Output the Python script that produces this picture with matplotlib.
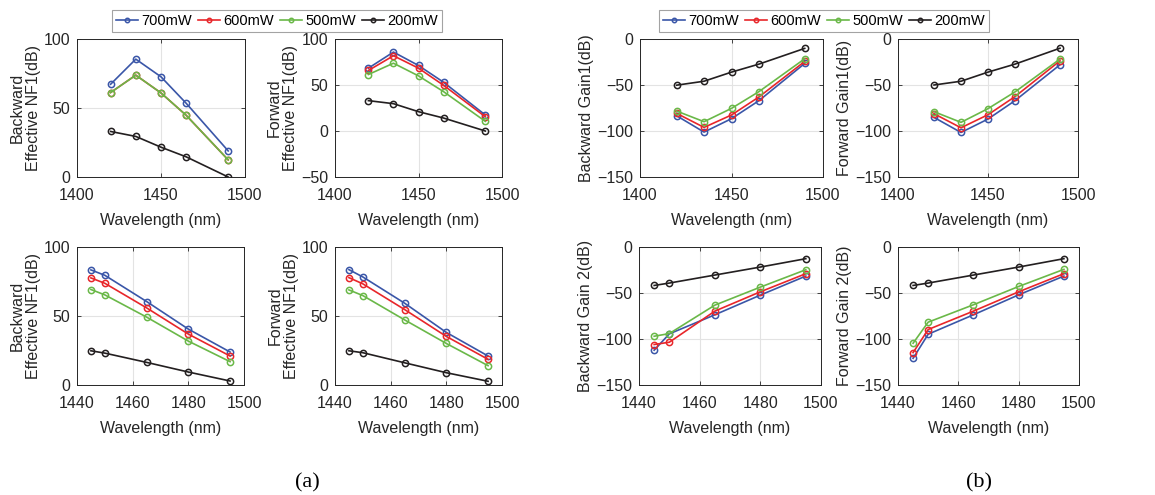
import numpy as np
import matplotlib
matplotlib.use('Agg')
import matplotlib.pyplot as plt

plt.rcParams['font.family'] = ['Liberation Sans', 'DejaVu Sans']
plt.rcParams['font.size'] = 11.5

# wavelengths (nm)
wl_top = [1420, 1435, 1450, 1465, 1490]
wl_bot = [1445, 1450, 1465, 1480, 1495]

powers = ['700mW', '600mW', '500mW', '200mW']
colors = ['#3a56a8', '#e8262a', '#6ab848', '#231f20']

# (a) top: Backward effective NF1
bnf1_top = [
    [67.2, 85.4, 72.6, 53.4, 18.9],
    [61.2, 73.8, 60.9, 44.7, 12.4],
    [61.2, 73.8, 60.9, 44.7, 12.4],
    [33.0, 29.4, 21.6, 14.6, 0.0],
]
# (a) top: Forward effective NF1
fnf1_top = [
    [68.3, 85.8, 71.2, 53.0, 17.4],
    [65.8, 81.8, 68.3, 49.7, 15.5],
    [61.4, 73.7, 59.9, 42.8, 10.5],
    [33.0, 29.7, 21.0, 14.1, 0.0],
]
# (b) top: Backward Gain1
bg1_top = [
    [-83.4, -101.2, -86.6, -67.0, -26.6],
    [-80.8, -96.1, -82.6, -63.0, -24.4],
    [-78.3, -89.9, -75.4, -57.2, -21.5],
    [-50.2, -45.9, -36.0, -27.3, -10.2],
]
# (b) top: Forward Gain1
fg1_top = [
    [-85.2, -101.6, -87.0, -67.0, -28.0],
    [-81.2, -96.5, -82.3, -62.6, -23.7],
    [-79.0, -90.6, -75.7, -57.5, -21.8],
    [-50.0, -45.9, -36.0, -27.3, -10.0],
]
# (a) bottom: Backward effective NF1
bnf1_bot = [
    [83.4, 79.5, 60.5, 40.5, 23.9],
    [77.6, 73.7, 55.9, 36.9, 21.0],
    [69.2, 65.3, 49.2, 31.8, 16.9],
    [24.8, 23.1, 16.4, 9.4, 2.9],
]
# (a) bottom: Forward effective NF1
fnf1_bot = [
    [83.6, 78.3, 59.3, 38.1, 21.0],
    [77.8, 73.3, 54.7, 35.2, 18.6],
    [68.9, 64.8, 47.2, 30.1, 14.0],
    [24.8, 23.4, 16.1, 8.9, 2.7],
]
# (b) bottom: Backward Gain 2
bg2_bot = [
    [-112.2, -94.4, -73.7, -52.3, -31.6],
    [-106.0, -103.5, -69.7, -48.7, -29.0],
    [-97.0, -94.1, -63.2, -43.6, -24.7],
    [-41.8, -39.2, -30.5, -21.8, -12.7],
]
# (b) bottom: Forward Gain 2
fg2_bot = [
    [-121.0, -94.8, -73.7, -52.0, -31.6],
    [-114.8, -89.7, -69.7, -48.7, -29.0],
    [-104.6, -81.7, -62.8, -42.9, -24.3],
    [-41.8, -39.2, -30.5, -21.8, -12.7],
]

W, H = 1155, 495
fig = plt.figure(figsize=(W / 100, H / 100), dpi=100)


def make_ax(x0, x1, y0, y1):
    return fig.add_axes([x0 / W, 1 - y1 / H, (x1 - x0) / W, (y1 - y0) / H])


def draw(ax, wl, data, ylabel, xlim, xticks, ylim, yticks):
    lines = []
    for vals, c, p in zip(data, colors, powers):
        ln, = ax.plot(wl, vals, '-o', color=c, lw=1.2, ms=4.5, mfc='none',
                      mew=1.1, label=p)
        lines.append(ln)
    ax.set_xlim(*xlim)
    ax.set_ylim(*ylim)
    ax.set_xticks(xticks)
    ax.set_yticks(yticks)
    ax.grid(True, color='#e3e3e3', lw=0.8)
    ax.set_axisbelow(True)
    ax.tick_params(direction='in', top=True, right=True, length=3,
                   width=0.6, labelsize=11.5, colors='#262626')
    ax.tick_params(axis='x', pad=8)
    ax.tick_params(axis='y', pad=5)
    for s in ax.spines.values():
        s.set_linewidth(0.7)
        s.set_color('#262626')
    ax.set_xlabel('Wavelength (nm)', fontsize=11.5, color='#262626',
                  labelpad=7)
    ax.set_ylabel(ylabel, fontsize=11.5, color='#262626', labelpad=2,
                  linespacing=1.1)
    return lines


# top row
ax1 = make_ax(77, 245, 39, 177)
lines = draw(ax1, wl_top, bnf1_top, 'Backward\nEffective NF1(dB)',
             (1400, 1500), [1400, 1450, 1500], (0, 100), [0, 50, 100])
ax2 = make_ax(335, 502, 39, 177)
draw(ax2, wl_top, fnf1_top, 'Forward\nEffective NF1(dB)',
     (1400, 1500), [1400, 1450, 1500], (-50, 100), [-50, 0, 50, 100])
ax3 = make_ax(640, 823, 39, 177)
draw(ax3, wl_top, bg1_top, 'Backward Gain1(dB)',
     (1400, 1500), [1400, 1450, 1500], (-150, 0), [-150, -100, -50, 0])
ax4 = make_ax(898, 1078, 39, 177)
draw(ax4, wl_top, fg1_top, 'Forward Gain1(dB)',
     (1400, 1500), [1400, 1450, 1500], (-150, 0), [-150, -100, -50, 0])

# bottom row
ax5 = make_ax(77, 244, 247, 385)
draw(ax5, wl_bot, bnf1_bot, 'Backward\nEffective NF1(dB)',
     (1440, 1500), [1440, 1460, 1480, 1500], (0, 100), [0, 50, 100])
ax6 = make_ax(335, 502, 247, 385)
draw(ax6, wl_bot, fnf1_bot, 'Forward\nEffective NF1(dB)',
     (1440, 1500), [1440, 1460, 1480, 1500], (0, 100), [0, 50, 100])
ax7 = make_ax(639, 821, 247, 385)
draw(ax7, wl_bot, bg2_bot, 'Backward Gain 2(dB)',
     (1440, 1500), [1440, 1460, 1480, 1500], (-150, 0), [-150, -100, -50, 0])
ax8 = make_ax(898, 1079, 247, 385)
draw(ax8, wl_bot, fg2_bot, 'Forward Gain 2(dB)',
     (1440, 1500), [1440, 1460, 1480, 1500], (-150, 0), [-150, -100, -50, 0])

# legends
for cx in [277, 824]:
    leg = fig.legend(lines, powers, loc='center', ncol=4,
                     bbox_to_anchor=(cx / W, 1 - 21 / H), fontsize=10.5,
                     frameon=True, fancybox=False, edgecolor='#8c8c8c',
                     handlelength=1.5, handletextpad=0.25, columnspacing=0.4,
                     borderpad=0.3, borderaxespad=0, markerscale=0.7)
    leg.get_frame().set_linewidth(0.8)

fig.text(307 / W, 1 - 483 / H, '(a)', ha='center', va='center',
         fontsize=16, family='Liberation Serif')
fig.text(979 / W, 1 - 483 / H, '(b)', ha='center', va='center',
         fontsize=16, family='Liberation Serif')

fig.savefig('out.png', dpi=100)
